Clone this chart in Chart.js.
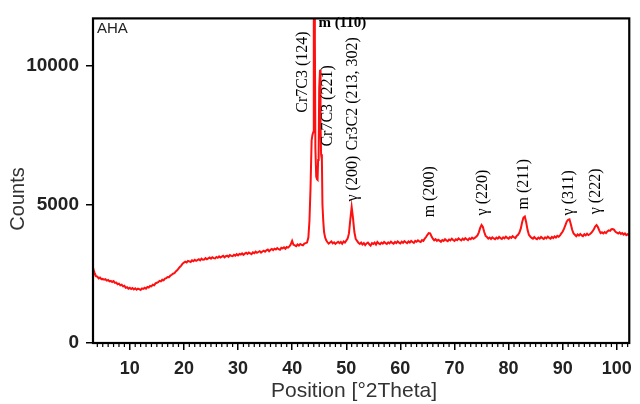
<!DOCTYPE html>
<html>
<head>
<meta charset="utf-8">
<script src="https://cdn.jsdelivr.net/npm/chart.js@4.4.1/dist/chart.umd.min.js"></script>
<style>
  html, body { margin: 0; padding: 0; background: #fff; }
</style>
</head>
<body>
<canvas id="myChart" width="640" height="404"></canvas>
<script>
// scan positions (°2Theta) and counts
const position = [
  3.2, 3.25, 3.5, 3.75, 4, 4.25, 4.5, 4.75, 5,
  5.25, 5.5, 5.75, 6, 6.25, 6.5, 6.75, 7, 7.25, 7.5, 7.75, 8, 8.25, 8.5, 8.75, 9, 9.25, 9.5, 9.75, 10,
  10.25, 10.5, 10.75, 11, 11.25, 11.5, 11.75, 12, 12.25, 12.5, 12.75, 13, 13.25, 13.5, 13.75, 14, 14.25, 14.5, 14.75, 15,
  15.25, 15.5, 15.75, 16, 16.25, 16.5, 16.75, 17, 17.25, 17.5, 17.75, 18, 18.25, 18.5, 18.75, 19, 19.25, 19.5, 19.75, 20,
  20.25, 20.5, 20.75, 21, 21.25, 21.5, 21.75, 22, 22.25, 22.5, 22.75, 23, 23.25, 23.5, 23.75, 24, 24.25, 24.5, 24.75, 25,
  25.25, 25.5, 25.75, 26, 26.25, 26.5, 26.75, 27, 27.25, 27.5, 27.75, 28, 28.25, 28.5, 28.75, 29, 29.25, 29.5, 29.75, 30,
  30.25, 30.5, 30.75, 31, 31.25, 31.5, 31.75, 32, 32.25, 32.5, 32.75, 33, 33.25, 33.5, 33.75, 34, 34.25, 34.5, 34.75, 35,
  35.25, 35.5, 35.75, 36, 36.25, 36.5, 36.75, 37, 37.25, 37.5, 37.75, 38, 38.25, 38.5, 38.75, 39, 39.25, 39.5, 39.75, 40,
  40.25, 40.5, 40.75, 41, 41.25, 41.5, 41.75, 42, 42.25, 42.5, 42.75,
  43.0, 43.2, 43.4, 43.6, 43.75, 43.9, 44.0, 44.1, 44.2, 44.3, 44.45, 44.6, 44.7, 44.8, 44.9, 45.0, 45.15, 45.25, 45.35, 45.5,
  45.6, 45.75, 45.9, 46.1, 46.3,
  46.5, 46.75, 47, 47.25, 47.5, 47.75, 48, 48.25, 48.5, 48.75, 49, 49.25, 49.5, 49.75, 50, 50.25,
  50.5, 50.75, 51, 51.25, 51.5, 51.75,
  52, 52.25, 52.5, 52.75, 53, 53.25, 53.5, 53.75, 54, 54.25, 54.5, 54.75, 55, 55.25, 55.5, 55.75, 56, 56.25, 56.5, 56.75,
  57, 57.25, 57.5, 57.75, 58, 58.25, 58.5, 58.75, 59, 59.25, 59.5, 59.75, 60, 60.25, 60.5, 60.75, 61, 61.25, 61.5, 61.75,
  62, 62.25, 62.5, 62.75, 63, 63.25, 63.5, 63.75, 64, 64.25, 64.5,
  64.75, 65, 65.25, 65.5, 65.75, 66,
  66.25, 66.5, 66.75, 67, 67.25, 67.5, 67.75, 68, 68.25, 68.5, 68.75, 69, 69.25, 69.5, 69.75, 70,
  70.25, 70.5, 70.75, 71, 71.25, 71.5, 71.75, 72, 72.25, 72.5, 72.75, 73, 73.25, 73.5, 73.75, 74,
  74.25, 74.5, 74.75, 75, 75.25, 75.5, 75.75,
  76, 76.25, 76.5, 76.75, 77, 77.25, 77.5, 77.75, 78, 78.25, 78.5, 78.75, 79, 79.25, 79.5, 79.75,
  80, 80.25, 80.5, 80.75, 81, 81.25, 81.5, 81.75,
  82, 82.25, 82.5, 82.75, 83, 83.25, 83.5, 83.75,
  84, 84.25, 84.5, 84.75, 85, 85.25, 85.5, 85.75, 86, 86.25, 86.5, 86.75, 87, 87.25, 87.5, 87.75,
  88, 88.25, 88.5, 88.75, 89, 89.25, 89.5, 89.75,
  90, 90.25, 90.5, 90.75, 91, 91.25, 91.5, 91.75, 92,
  92.25, 92.5, 92.75, 93, 93.25, 93.5, 93.75, 94, 94.25, 94.5, 94.75, 95, 95.25, 95.5,
  95.75, 96, 96.25, 96.5, 96.75, 97,
  97.25, 97.5, 97.75, 98, 98.25, 98.5, 98.75, 99, 99.25, 99.5, 99.75, 100,
  100.25, 100.5, 100.75, 101, 101.25, 101.5, 101.75, 102, 102.25
];
const counts = [
  2700, 2660, 2530, 2410, 2390, 2330, 2360, 2300, 2310,
  2280, 2300, 2250, 2270, 2220, 2240, 2200, 2230, 2170, 2180, 2120, 2140, 2080, 2100, 2040, 2060, 1990, 2010, 1960, 1990,
  1950, 1980, 1930, 1970, 1920, 1960, 1940, 1910, 1970, 1950, 1990, 1960, 2020, 2000, 2060, 2040, 2100, 2080, 2150, 2170,
  2190, 2240, 2220, 2280, 2260, 2320, 2340, 2380, 2370, 2430, 2460, 2500, 2520, 2580, 2620, 2680, 2740, 2790, 2860, 2900,
  2930, 2900, 2960, 2940, 2920, 2980, 2950, 3000, 2960, 2990, 3020, 2980, 3040, 3000, 3010, 3060, 3020, 3050, 3080, 3040,
  3090, 3060, 3050, 3100, 3070, 3120, 3080, 3110, 3140, 3090, 3130, 3150, 3110, 3170, 3140, 3130, 3180, 3150, 3200, 3160,
  3210, 3190, 3230, 3180, 3220, 3250, 3210, 3260, 3230, 3200, 3270, 3240, 3290, 3250, 3280, 3310, 3260, 3300, 3330, 3290,
  3340, 3370, 3310, 3360, 3390, 3350, 3400, 3370, 3420, 3380, 3360, 3430, 3410, 3450, 3400, 3460, 3440, 3480, 3560, 3680,
  3540, 3520, 3490, 3550, 3510, 3570, 3540, 3520, 3580, 3600, 3620,
  3800, 4400, 5600, 7300, 7500, 7600, 11500, 13000, 11000, 7000, 6000, 5900, 5880, 6600, 6800, 9200, 9850, 8000, 6800, 6600,
  5000, 4400, 4000, 3800, 3700,
  3640, 3580, 3620, 3660, 3590, 3630, 3570, 3610, 3650, 3600, 3640, 3580, 3660, 3620, 3690, 3760,
  3950, 4450, 4900, 4500, 4000, 3750,
  3680, 3610, 3570, 3620, 3550, 3600, 3530, 3590, 3620, 3560, 3510, 3600, 3570, 3620, 3550, 3640, 3590, 3560, 3620, 3580,
  3640, 3600, 3570, 3630, 3590, 3650, 3610, 3580, 3640, 3600, 3660, 3620, 3590, 3650, 3610, 3670, 3630, 3600, 3660, 3620,
  3680, 3640, 3610, 3680, 3650, 3700, 3660, 3640, 3710, 3680, 3760,
  3820, 3900, 3960, 3950, 3850, 3760,
  3700, 3740, 3680, 3720, 3690, 3650, 3710, 3680, 3740, 3700, 3670, 3730, 3700, 3760, 3710, 3680,
  3740, 3710, 3770, 3730, 3700, 3760, 3720, 3780, 3740, 3710, 3770, 3740, 3800, 3760, 3790, 3830,
  3880, 3990, 4150, 4250, 4180, 4000, 3860,
  3820, 3760, 3800, 3750, 3810, 3770, 3740, 3800, 3760, 3820, 3780, 3750, 3810, 3770, 3830, 3790,
  3760, 3820, 3790, 3850, 3810, 3780, 3860, 3900,
  3980, 4120, 4350, 4520, 4560, 4350, 4080, 3900,
  3840, 3790, 3760, 3820, 3770, 3740, 3800, 3760, 3820, 3780, 3750, 3810, 3770, 3830, 3790, 3760,
  3820, 3780, 3840, 3800, 3860, 3830, 3880, 3950,
  4020, 4120, 4250, 4380, 4440, 4460, 4280, 4080, 3950,
  3900, 3850, 3910, 3870, 3930, 3880, 3850, 3920, 3880, 3940, 3890, 3920, 3960, 4020,
  4100, 4200, 4250, 4180, 4060, 3960,
  3990, 3950, 4000, 3960, 4020, 4060, 4040, 4100, 4110, 4080, 4010, 3980,
  3950, 3990, 3930, 3960, 3910, 3950, 3890, 3920, 3880
];

const xTicks = [10, 20, 30, 40, 50, 60, 70, 80, 90, 100];
const yTicks = [0, 5000, 10000];

// phase labels, written upward from (peakPos, peakCounts)
const peakNames  = ['Cr7C3 (124)', 'Cr7C3 (221)', 'Cr3C2 (213, 302)', 'γ (200)', 'm (200)', 'γ (220)', 'm (211)', 'γ (311)', 'γ (222)'];
const peakPos    = [42.0, 46.5, 51.3, 51.3, 65.5, 75.3, 82.8, 91.2, 96.2];
const peakCounts = [8300, 7080, 6940, 5100, 4530, 4600, 4810, 4600, 4640];

const topLabel = 'm (110)';
const topLabelPos = 44.85;
const topLabelCounts = 11400;

const extras = {
  id: 'extras',
  afterDraw(chart) {
    const c = chart.ctx;
    const a = chart.chartArea;
    const xs = chart.scales.x;
    const ys = chart.scales.y;
    c.save();

    // minor ticks every 1 degree
    c.strokeStyle = '#000';
    c.lineWidth = 1.2;
    c.beginPath();
    for (let v = 4; v <= 102; v++) {
      if (v % 10 === 0) continue;
      const px = xs.getPixelForValue(v);
      c.moveTo(px, a.bottom);
      c.lineTo(px, a.bottom + 4);
    }
    c.stroke();

    // frame
    c.lineWidth = 2.2;
    c.strokeRect(a.left, a.top, a.right - a.left, a.bottom - a.top);

    // sample name
    c.fillStyle = '#222';
    c.font = '15px "Liberation Sans", Arial, sans-serif';
    c.textAlign = 'left';
    c.textBaseline = 'top';
    c.fillText('AHA', a.left + 4, a.top + 3);

    // peak labels
    c.fillStyle = '#000';
    c.font = '16px "Liberation Serif", "Times New Roman", serif';
    c.textBaseline = 'middle';
    peakNames.forEach((t, i) => {
      c.save();
      c.translate(xs.getPixelForValue(peakPos[i]), ys.getPixelForValue(peakCounts[i]));
      c.rotate(-Math.PI / 2);
      c.fillText(t, 0, 0);
      c.restore();
    });
    c.font = 'bold 15px "Liberation Serif", "Times New Roman", serif';
    c.textBaseline = 'alphabetic';
    c.fillText(topLabel, xs.getPixelForValue(topLabelPos), ys.getPixelForValue(topLabelCounts));

    // axis titles
    c.fillStyle = '#333';
    c.font = '21px "Liberation Sans", Arial, sans-serif';
    c.textAlign = 'center';
    c.textBaseline = 'middle';
    c.fillText('Position [°2Theta]', 354, 391);
    c.font = '20px "Liberation Sans", Arial, sans-serif';
    c.save();
    c.translate(18, 199);
    c.rotate(-Math.PI / 2);
    c.fillText('Counts', 0, 0);
    c.restore();

    c.restore();
  }
};

const ctx = document.getElementById('myChart').getContext('2d');
const myChart = new Chart(ctx, {
  type: 'line',
  data: {
    datasets: [{
      data: position.map((p, i) => ({ x: p, y: counts[i] })),
      borderColor: '#ff1010',
      borderWidth: 2,
      pointRadius: 0,
      tension: 0,
      fill: false
    }]
  },
  options: {
    responsive: false,
    animation: false,
    devicePixelRatio: 1,
    layout: { padding: { left: 0, top: 12, right: 7, bottom: 0 } },
    plugins: { legend: { display: false }, tooltip: { enabled: false } },
    scales: {
      x: {
        type: 'linear',
        min: 3.2,
        max: 102.3,
        afterBuildTicks: s => { s.ticks = xTicks.map(v => ({ value: v })); },
        afterFit: s => { s.height = 61; },
        grid: { drawOnChartArea: false, tickLength: 7, color: '#000', lineWidth: 1.5 },
        border: { display: false },
        ticks: {
          autoSkip: false,
          maxRotation: 0,
          padding: 8,
          color: '#222',
          callback: v => String(v),
          font: { family: '"Liberation Sans", Arial, sans-serif', size: 18, weight: 'bold' }
        }
      },
      y: {
        min: 0,
        max: 11700,
        afterBuildTicks: s => { s.ticks = yTicks.map(v => ({ value: v })); },
        afterFit: s => { s.width = 93; },
        grid: { drawOnChartArea: false, tickLength: 7, color: '#000', lineWidth: 1.5 },
        border: { display: false },
        ticks: {
          padding: 7,
          color: '#222',
          callback: v => String(v),
          font: { family: '"Liberation Sans", Arial, sans-serif', size: 19, weight: 'bold' }
        }
      }
    }
  },
  plugins: [extras]
});
</script>
</body>
</html>
